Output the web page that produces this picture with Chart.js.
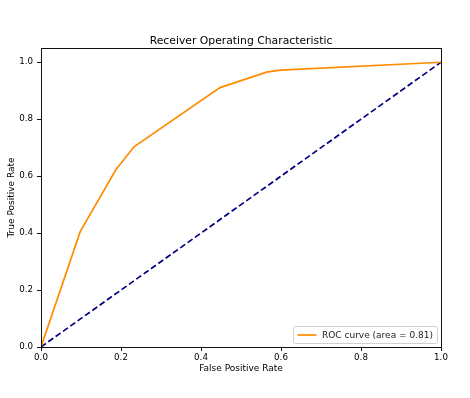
<!DOCTYPE html>
<html>
<head>
<meta charset="utf-8">
<script src="https://cdn.jsdelivr.net/npm/chart.js@4/dist/chart.umd.min.js"></script>
<style>
  body { margin: 0; background: #fff; }
</style>
</head>
<body>
<canvas id="rocChart" width="470" height="398"></canvas>
<script>
const fprValues = [0.0, 0.098, 0.1875, 0.2325, 0.4475, 0.564, 0.598, 1.0];
const tprValues = [0.0, 0.405, 0.623, 0.703, 0.911, 0.965, 0.972, 1.0];
const chanceX = [0, 1];
const chanceY = [0, 1];
const tickValues = [0, 0.2, 0.4, 0.6, 0.8, 1.0];
const rocLabel = 'ROC curve (area = 0.81)';
const chartTitle = 'Receiver Operating Characteristic';

const FONT = 'DejaVu Sans';

function toPoints(xs, ys) {
  return xs.map((x, i) => ({ x: x, y: ys[i] }));
}

// matplotlib draws a full box round the axes, title centred over the axes
const frameBox = {
  id: 'frameBox',
  afterDatasetsDraw(chart) {
    const { ctx, chartArea: a } = chart;
    ctx.save();
    ctx.strokeStyle = '#111';
    ctx.lineWidth = 1;
    ctx.strokeRect(a.left + 0.5, a.top + 0.5, a.right - a.left, a.bottom - a.top);
    ctx.fillStyle = '#000';
    ctx.font = '10.8px "' + FONT + '"';
    ctx.textAlign = 'center';
    ctx.textBaseline = 'alphabetic';
    ctx.fillText(chartTitle, (a.left + a.right) / 2, a.top - 4.5);
    ctx.restore();
  }
};

// legend box in lower right corner of the axes
const cornerLegend = {
  id: 'cornerLegend',
  afterDraw(chart) {
    const { ctx, chartArea: a } = chart;
    const w = 144, h = 17;
    const x = a.right - 4 - w, y = a.bottom - 4 - h;
    ctx.save();
    ctx.fillStyle = 'rgba(255,255,255,0.8)';
    ctx.strokeStyle = '#d0d0d0';
    ctx.lineWidth = 1;
    ctx.beginPath();
    ctx.roundRect(x + 0.5, y + 0.5, w, h, 2);
    ctx.fill();
    ctx.stroke();
    ctx.strokeStyle = 'darkorange';
    ctx.lineWidth = 1.7;
    ctx.beginPath();
    ctx.moveTo(x + 4.5, y + h / 2 + 0.5);
    ctx.lineTo(x + 23.5, y + h / 2 + 0.5);
    ctx.stroke();
    ctx.fillStyle = '#222';
    ctx.font = '9px "' + FONT + '"';
    ctx.textBaseline = 'middle';
    ctx.fillText(rocLabel, x + 29, y + h / 2 + 1);
    ctx.restore();
  }
};

const ctx = document.getElementById('rocChart').getContext('2d');

new Chart(ctx, {
  type: 'scatter',
  data: {
    datasets: [{
      label: rocLabel,
      data: toPoints(fprValues, tprValues),
      showLine: true,
      borderColor: 'darkorange',
      borderWidth: 1.7,
      pointRadius: 0,
      tension: 0
    }, {
      label: 'chance',
      data: toPoints(chanceX, chanceY),
      showLine: true,
      borderColor: 'navy',
      borderWidth: 1.7,
      borderDash: [6, 3],
      pointRadius: 0
    }]
  },
  options: {
    responsive: false,
    animation: false,
    devicePixelRatio: 1,
    layout: { padding: { left: 0, right: 29, top: 48, bottom: 21 } },
    plugins: {
      legend: { display: false },
      tooltip: { enabled: false },
      title: { display: false }
    },
    scales: {
      x: {
        type: 'linear',
        min: 0,
        max: 1,
        afterBuildTicks(scale) { scale.ticks = tickValues.map(v => ({ value: v })); },
        afterFit(scale) { scale.height = 30; },
        grid: { drawOnChartArea: false, drawTicks: true, tickLength: 4, color: '#111' },
        border: { display: false },
        ticks: {
          color: '#000',
          padding: 2,
          maxRotation: 0,
          font: { family: FONT, size: 8.7 },
          callback: v => v.toFixed(1)
        },
        title: {
          display: true,
          text: 'False Positive Rate',
          color: '#000',
          font: { family: FONT, size: 9 },
          padding: { top: 0, bottom: 2.5 }
        }
      },
      y: {
        type: 'linear',
        min: 0,
        max: 1.05,
        afterBuildTicks(scale) { scale.ticks = tickValues.map(v => ({ value: v })); },
        afterFit(scale) { scale.width = 41; },
        grid: { drawOnChartArea: false, drawTicks: true, tickLength: 4, color: '#111' },
        border: { display: false },
        ticks: {
          color: '#000',
          padding: 4,
          font: { family: FONT, size: 8.7 },
          callback: v => v.toFixed(1)
        },
        title: {
          display: true,
          text: 'True Positive Rate',
          color: '#000',
          font: { family: FONT, size: 9 },
          padding: { top: 6.5, bottom: 0 }
        }
      }
    }
  },
  plugins: [frameBox, cornerLegend]
});
</script>
</body>
</html>
